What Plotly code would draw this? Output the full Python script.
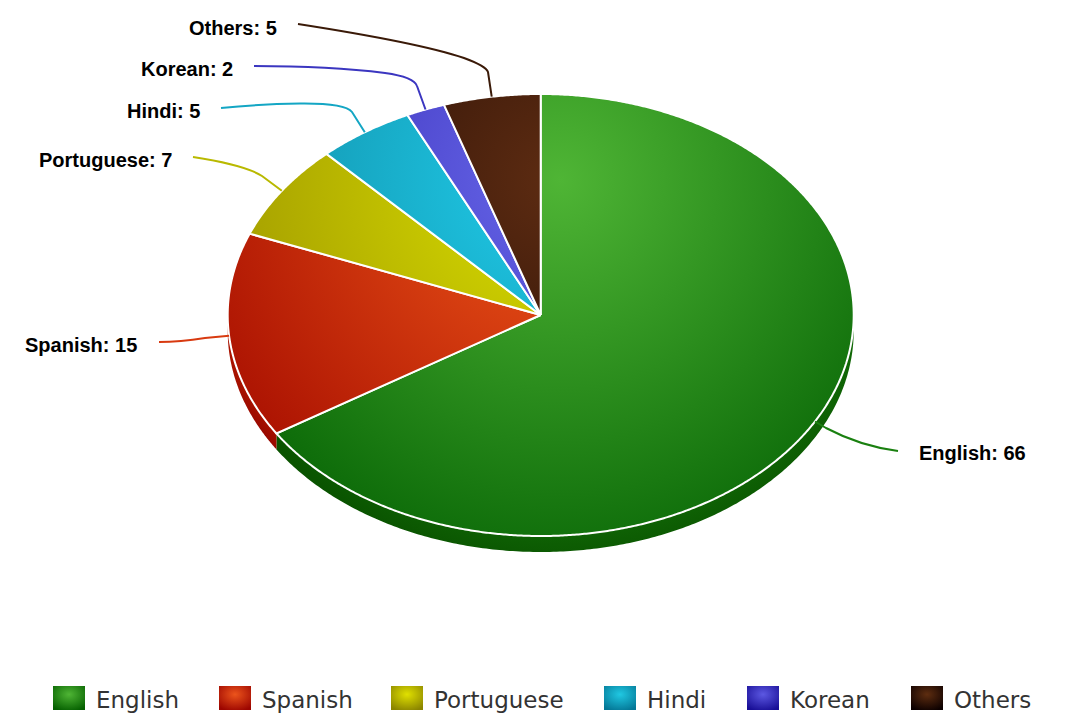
import numpy as np
import plotly.graph_objects as go

categories = ["English", "Spanish", "Portuguese", "Hindi", "Korean", "Others"]
values = [66, 15, 7, 5, 2, 5]

# radial gradient colours, inner to outer
slice_inner = ["#4fb535", "#f25a1a", "#dce100", "#20cdeb", "#6868ea", "#5e2c12"]
slice_outer = ["#076505", "#a60d00", "#988f00", "#0e829b", "#2a1ca8", "#120300"]
swatch_inner = ["#4fb535", "#ec541c", "#e0e000", "#20c8e2", "#5c58e2", "#5e2d10"]
swatch_outer = ["#056000", "#9c0500", "#8a8400", "#047796", "#180e96", "#0c0000"]
line_colors = ["#1a8010", "#d83a10", "#b9b900", "#14a6c4", "#3b36c0", "#3a1a08"]

# layout in pixels
cx, cy, rx, ry = 540.7, 315, 313, 221
depth = 16
label_x = [917, 139, 174, 202, 235, 279]
label_y = [453, 345, 160, 111, 69, 28]
legend_x = [53, 219, 391, 604, 747, 911]
swatch_w, swatch_h = 32, 24
legend_y = 686

# connector tail after the elbow next to each slice: elbow, control, end
connector_tails = [
    "L 826 428 Q 860 446 898 451",
    "L 205 338 Q 180 342 159 342",
    "L 262 176 Q 245 165 193 157",
    "L 352 112 Q 345 103 300 103.5 Q 260 104 221 108",
    "L 417 86 Q 414 77 385 73 Q 330 66 254 66",
    "L 488 72 Q 486 66 464 58 Q 420 43 298 24",
]


def point(theta, dy=0):
    return cx + rx * np.sin(theta), cy + dy + ry * np.cos(theta) * -1


edges = np.radians(np.cumsum([0] + values) / sum(values) * 360)

fig = go.Figure()

# the side of the disc, only where it faces down
rim_colors = {
    "English": [[0, "#2a9a20"], [0.78, "#126c08"], [0.92, "#0a5400"], [1, "#094f00"]],
    "Spanish": [[0, "#c02000"], [0.9, "#a81200"], [0.96, "#8b0000"], [1, "#880000"]],
}
for i, name in enumerate(categories[:2]):
    a = max(edges[i], np.pi / 2)
    b = min(edges[i + 1], 3 * np.pi / 2)
    t = np.linspace(a, b, 240)
    x1, y1 = point(t)
    x2, y2 = point(t[::-1], depth)
    fig.add_trace(go.Scatter(
        x=np.concatenate([x1, x2]), y=np.concatenate([y1, y2]),
        mode="lines", fill="toself", line=dict(width=0, simplify=False),
        fillgradient=dict(type="radial", colorscale=rim_colors[name]),
        hoverinfo="skip", showlegend=False,
    ))

for i, name in enumerate(categories):
    n = max(int(values[i] * 10), 30)
    t = np.linspace(edges[i], edges[i + 1], n)
    x, y = point(t)
    fig.add_trace(go.Scatter(
        x=np.concatenate([[cx], x, [cx]]), y=np.concatenate([[cy], y, [cy]]),
        mode="lines", fill="toself", line=dict(color="white", width=2, simplify=False),
        fillgradient=dict(type="radial", colorscale=[[0, slice_inner[i]], [1, slice_outer[i]]]),
        name=name, hoverinfo="skip", showlegend=False,
    ))

shapes = []
annotations = []
for i, name in enumerate(categories):
    mid = (edges[i] + edges[i + 1]) / 2
    x0, y0 = point(mid)
    shapes.append(dict(
        type="path", xref="x", yref="y",
        path=f"M {x0:.1f} {y0:.1f} {connector_tails[i]}",
        line=dict(color=line_colors[i], width=2),
    ))
    annotations.append(dict(
        x=label_x[i], y=label_y[i], xref="x", yref="y", showarrow=False,
        text=f"<b>{name}: {values[i]}</b>",
        xanchor="left" if i == 0 else "right", yanchor="middle",
        font=dict(family="Liberation Sans", size=20, color="black"),
    ))

    # legend
    sx, sy = legend_x[i], legend_y
    fig.add_trace(go.Scatter(
        x=[sx, sx + swatch_w, sx + swatch_w, sx, sx],
        y=[sy, sy, sy + swatch_h, sy + swatch_h, sy],
        mode="lines", fill="toself", line=dict(width=0),
        fillgradient=dict(type="radial", colorscale=[[0, swatch_inner[i]], [1, swatch_outer[i]]]),
        hoverinfo="skip", showlegend=False,
    ))
    annotations.append(dict(
        x=sx + swatch_w + 8.5, y=sy + 14, xref="x", yref="y", showarrow=False,
        text=name, xanchor="left", yanchor="middle",
        font=dict(family="DejaVu Sans", size=23, color="#333333"),
    ))

fig.update_layout(
    width=1072, height=720,
    margin=dict(l=0, r=0, t=0, b=0),
    paper_bgcolor="white", plot_bgcolor="white",
    xaxis=dict(range=[0, 1072], visible=False, fixedrange=True),
    yaxis=dict(range=[720, 0], visible=False, fixedrange=True),
    shapes=shapes, annotations=annotations,
)

# plotly centres radial fills on each path's box; the pie shares one glow
# placed in pixels, the swatches only shift theirs up a bit
post = """
document.body.style.margin = '0';
var traces = document.querySelectorAll('.scatterlayer .trace');
traces.forEach(function (tr, k) {
    var p = tr.querySelector('path.js-fill');
    if (!p) return;
    var m = /#([^"')]+)/.exec(p.style.fill);
    var g = m && document.getElementById(m[1]);
    if (!g) return;
    if (k < 8) {
        g.setAttribute('gradientUnits', 'userSpaceOnUse');
        g.setAttribute('cx', 560);
        g.setAttribute('cy', 180);
        g.setAttribute('r', 420);
    } else {
        g.setAttribute('cy', '0.35');
        g.setAttribute('r', '0.72');
    }
});
"""

fig.write_html("out.html", post_script=post, config=dict(displayModeBar=False))
